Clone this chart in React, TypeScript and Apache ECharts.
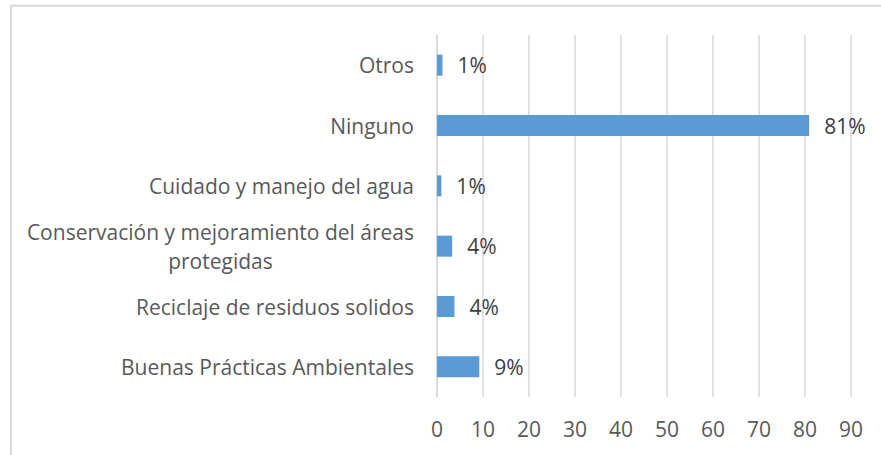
import React, { useEffect, useRef } from "react";
import * as echarts from "echarts";

const categories = [
  "Buenas Prácticas Ambientales",
  "Reciclaje de residuos solidos",
  "Conservación y mejoramiento del áreas\nprotegidas",
  "Cuidado y manejo del agua",
  "Ninguno",
  "Otros",
];
const values = [9.2, 3.8, 3.3, 0.95, 80.9, 1.2];
const valueLabels = ["9%", "4%", "4%", "1%", "81%", "1%"];
const xTicks = { min: 0, max: 90, interval: 10 };

const FONT = "Open Sans";
const FS = 21;

export default function App() {
  const ref = useRef<HTMLDivElement>(null);
  useEffect(() => {
    if (!ref.current) return;
    const chart = echarts.init(ref.current, undefined, { renderer: "svg" });
    chart.setOption({
      animation: false,
      backgroundColor: "#ffffff",
      graphic: [
        {
          type: "rect",
          shape: { x: 11, y: 5.7, width: 1000, height: 600 },
          style: { fill: "none", stroke: "#d9d9d9", lineWidth: 2 },
          silent: true,
        },
      ],
      grid: { left: 437, right: 30, top: 35, bottom: 58, containLabel: false },
      xAxis: {
        type: "value",
        min: xTicks.min,
        max: xTicks.max,
        interval: xTicks.interval,
        axisLine: { show: false },
        axisTick: { show: false },
        splitLine: { show: true, lineStyle: { color: "#d9d9d9", width: 1.5 } },
        axisLabel: {
          color: "#595959",
          fontFamily: FONT,
          fontSize: FS,
          margin: 21,
        },
      },
      yAxis: {
        type: "category",
        data: categories,
        axisLine: { show: true, lineStyle: { color: "#d9d9d9", width: 1.5 } },
        axisTick: { show: false },
        axisLabel: {
          color: "#595959",
          fontFamily: FONT,
          fontSize: FS,
          margin: 23,
          lineHeight: 29,
          formatter: (v: string) => {
            const parts = v.split("\n");
            if (parts.length === 1) return v;
            return `{a|${parts[0]}}\n{b|${parts[1]}}`;
          },
          rich: {
            a: { color: "#595959", fontFamily: FONT, fontSize: FS, lineHeight: 29, align: "right" },
            b: { color: "#595959", fontFamily: FONT, fontSize: FS, lineHeight: 29, align: "center" },
          },
        },
      },
      series: [
        {
          type: "bar",
          data: values,
          barWidth: 21,
          itemStyle: { color: "#5b9bd5" },
          label: {
            show: true,
            position: "right",
            distance: 15,
            color: "#404040",
            fontFamily: FONT,
            fontSize: FS,
            formatter: (p: any) => valueLabels[p.dataIndex],
          },
        },
      ],
    });
    return () => chart.dispose();
  }, []);
  return (
    <div
      ref={ref}
      style={{ position: "fixed", left: 0, top: 0, width: 881, height: 455 }}
    />
  );
}
